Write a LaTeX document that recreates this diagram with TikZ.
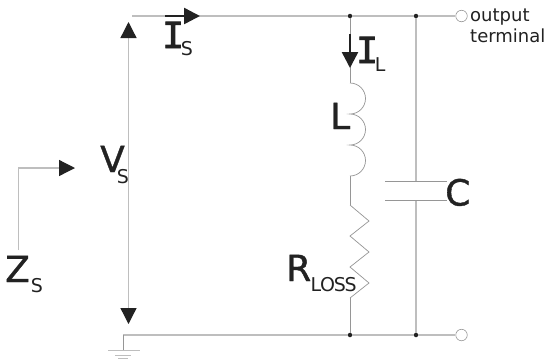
\documentclass[tikz,border=0pt]{standalone}
\usepackage{fontspec}
\setmainfont{DejaVu Sans}
\newfontfamily\heavyfont[FakeBold=1]{DejaVu Sans}
\newfontfamily\serifI[FakeBold=2.5]{DejaVu Sans Mono}
\usetikzlibrary{arrows.meta,positioning}
\definecolor{wiregray}{RGB}{190,190,190}
\definecolor{partgray}{RGB}{150,150,150}
\definecolor{inkblack}{RGB}{34,34,34}
\newcommand{\MainLetter}[1]{{\heavyfont\fontsize{36}{36}\selectfont #1}}
\newcommand{\SubLetter}[2]{\raisebox{-#2pt}{\fontsize{19}{19}\selectfont #1}}
\newcommand{\BarLetter}{{\serifI\fontsize{36}{36}\selectfont I}}
\begin{document}
\begin{tikzpicture}[x=1pt,y=-1pt,
	wire/.style={wiregray, line width=1.3pt},
	part/.style={partgray, line width=0.7pt},
	bigarrow/.style={wiregray, line width=1.3pt, -{Triangle[length=16pt,width=16pt,color=inkblack]}},
	blackarrow/.style={inkblack, line width=2.5pt, -{Triangle[length=16pt,width=16pt,color=inkblack]}},
	dot/.style={circle, fill=inkblack, inner sep=0pt, minimum size=4.5pt},
	terminal/.style={circle, draw=partgray, fill=white, line width=0.6pt, inner sep=0pt, minimum size=11.5pt},
	label/.style={inner sep=0pt, anchor=base west, text=inkblack}
	]
	\useasboundingbox (0,0) rectangle (545,360);
	\fill[white] (0,0) rectangle (545,360);
	% junctions and terminals
	\node[dot] (TopL) at (350,16) {};
	\node[dot] (TopC) at (416,16) {};
	\node[dot] (BotL) at (350,335) {};
	\node[dot] (BotC) at (416,335) {};
	\node[terminal] (TopOut) at (461.5,16) {};
	\node[terminal] (BotOut) at (461.5,335) {};
	\coordinate (TopStart) at (132,16);
	\coordinate (BotStart) at (123,335);
	\coordinate (GroundPoint) at (123,350);
	\coordinate (CoilTop) at (350,83);
	\coordinate (CoilBot) at (350,176);
	\coordinate (ResTop) at (350,205);
	\coordinate (ResBot) at (350,298);
	\coordinate (CapTop) at (416,181);
	\coordinate (CapBot) at (416,200);
	% wires
	\draw[wire] (TopStart) -- (TopL) -- (TopC) -- (TopOut);
	\draw[wire] (BotStart) -- (BotL) -- (BotC) -- (BotOut);
	\draw[wire] (TopC) -- (CapTop);
	\draw[wire] (CapBot) -- (BotC);
	\draw[part, line width=1pt] (TopL) -- (CoilTop);
	\draw[part, line width=1pt] (ResBot) -- (BotL);
	\draw[part, line width=1pt] (CoilBot) -- (ResTop);
	% inductor
	\draw[part] (CoilTop) arc[start angle=90, end angle=-90, x radius=15.5pt, y radius=15.5pt]
		arc[start angle=90, end angle=-90, x radius=15.5pt, y radius=15.5pt]
		arc[start angle=90, end angle=-90, x radius=15.5pt, y radius=15.5pt];
	% resistor
	\draw[part] (ResTop) -- (369,221) -- (350,236) -- (369,252) -- (350,267) -- (369,283) -- (ResBot);
	% capacitor
	\draw[part, line width=0.9pt] (385,181) -- (447,181);
	\draw[part, line width=0.9pt] (385,200) -- (447,200);
	% ground
	\draw[part, line width=1pt] (BotStart) -- (GroundPoint);
	\draw[wire, line width=1pt] (108,350) -- (140,350);
	\draw[wire, line width=1pt] (115,355) -- (131,355);
	\draw[wire, line width=1pt] (118,358.5) -- (128,358.5);
	% arrows
	\draw[bigarrow, {Triangle[length=16pt,width=16pt,color=inkblack]}-{Triangle[length=16pt,width=16pt,color=inkblack]}] (128.5,22) -- (128.5,324);
	\draw[blackarrow] (165,16) -- (200,16);
	\draw[blackarrow] (350,34) -- (350,68);
	\draw[bigarrow] (18.5,250) -- (18.5,168) -- (75,168);
	% labels
	\node[label] (VsLabel) at (100,172) {\MainLetter{V}\kern-8pt\SubLetter{S}{11}};
	\node[label] (ZsLabel) at (5,282) {\MainLetter{Z}\kern1pt\SubLetter{S}{10}};
	\node[label] (RlossLabel) at (286,281) {\MainLetter{R}\SubLetter{\kern-.5pt L\kern-1.2pt O\kern-1.2pt S\kern-1.2pt S}{10}};
	\node[label] (LLabel) at (330,129) {\MainLetter{L}};
	\node[label] (CLabel) at (445,205.5) {\MainLetter{C}};
	\node[label] (IsLabel) at (162,48) {\BarLetter\kern-3pt\SubLetter{S}{7}};
	\node[label] (IlLabel) at (356,63) {\BarLetter\kern-3pt\SubLetter{L}{8}};
	\node[label, align=left, font=\fontsize{18}{21}\selectfont, anchor=north west] (OutLabel) at (470,8.5) {output\\terminal};
\end{tikzpicture}
\end{document}
